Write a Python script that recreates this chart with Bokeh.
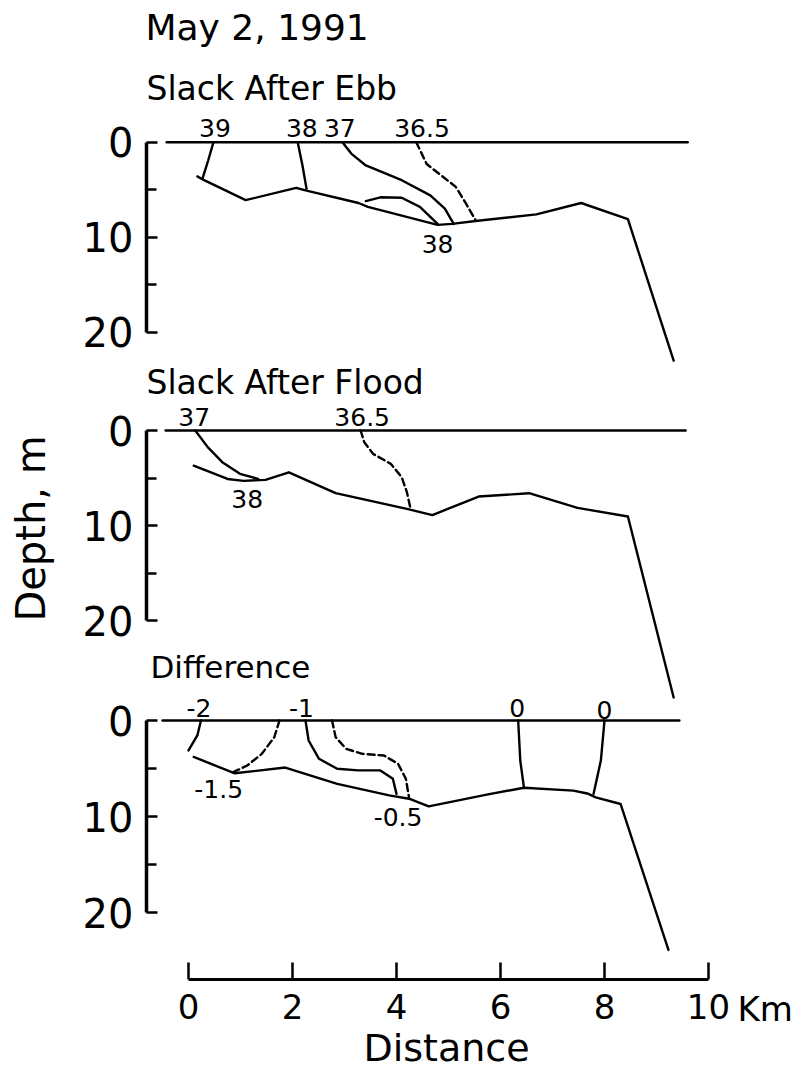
from bokeh.plotting import figure
from bokeh.models import Range1d, FixedTicker
from bokeh.layouts import column
from bokeh.core.properties import value
from bokeh.embed import file_html
from bokeh.resources import INLINE

# ------------------------------------------------------------------ data
depth_ticks = [0, 10, 20]
depth_minor_ticks = [5, 15]
distance_ticks = [0, 2, 4, 6, 8, 10]
distance_unit = "Km"
distance_title = "Distance"
depth_title = "Depth, m"

main_title = "May 2, 1991"
panel_titles = ["Slack After Ebb", "Slack After Flood", "Difference"]

# --- Slack After Ebb (salinity contours)
ebb_surface_km = [-0.42, 9.60]
ebb_surface_depth = [0.0, 0.0]
ebb_bottom_km = [0.17, 0.30, 1.10, 2.07, 2.27, 3.27, 3.45, 4.79, 5.07, 5.52, 6.69, 7.55, 8.45, 9.33]
ebb_bottom_depth = [3.6, 4.0, 6.1, 4.8, 5.1, 6.4, 6.8, 8.7, 8.6, 8.3, 7.6, 6.4, 8.1, 23.0]
ebb_39_km = [0.48, 0.38, 0.27]
ebb_39_depth = [0.0, 1.9, 3.8]
ebb_38_upper_km = [2.10, 2.19, 2.27]
ebb_38_upper_depth = [0.0, 2.4, 4.9]
ebb_37_km = [2.96, 3.13, 3.41, 4.10, 4.65, 4.93, 5.10]
ebb_37_depth = [0.0, 1.2, 2.45, 4.0, 5.6, 7.0, 8.6]
ebb_365_km = [4.38, 4.58, 4.86, 5.14, 5.34, 5.52]
ebb_365_depth = [0.0, 2.3, 3.5, 4.7, 6.5, 8.2]
ebb_38_lower_km = [3.41, 3.69, 4.10, 4.45, 4.79]
ebb_38_lower_depth = [6.2, 5.8, 5.85, 6.8, 8.6]
ebb_label_text = ["39", "38", "37", "36.5", "38"]
ebb_label_km = [0.51, 2.18, 2.91, 4.49, 4.79]
ebb_label_depth = [-1.5, -1.5, -1.5, -1.5, 10.7]

# --- Slack After Flood
flood_surface_km = [-0.44, 9.56]
flood_surface_depth = [0.0, 0.0]
flood_bottom_km = [0.10, 0.75, 1.06, 1.48, 1.93, 2.83, 4.20, 4.69, 5.58, 6.55, 7.48, 8.45, 9.33]
flood_bottom_depth = [3.7, 5.1, 5.3, 5.2, 4.4, 6.6, 8.25, 8.9, 6.95, 6.6, 8.15, 9.05, 28.1]
flood_37_km = [0.13, 0.37, 0.65, 0.99, 1.34]
flood_37_depth = [0.0, 1.75, 3.33, 4.56, 5.09]
flood_365_km = [3.31, 3.38, 3.55, 3.89, 4.10, 4.20, 4.27]
flood_365_depth = [0.0, 1.23, 2.46, 3.51, 4.91, 6.49, 8.25]
flood_label_text = ["37", "36.5", "38"]
flood_label_km = [0.11, 3.34, 1.13]
flood_label_depth = [-1.45, -1.45, 7.2]

# --- Difference
diff_surface_km = [-0.50, 9.44]
diff_surface_depth = [0.0, 0.0]
diff_bottom_km = [0.10, 0.89, 1.86, 2.86, 3.86, 4.24, 4.62, 5.76, 6.45, 7.40, 7.67, 7.83, 8.31, 9.23]
diff_bottom_depth = [3.8, 5.5, 4.9, 6.6, 7.8, 8.15, 8.95, 7.7, 7.0, 7.3, 7.6, 8.0, 8.7, 23.9]
diff_m2_km = [0.24, 0.17, 0.0]
diff_m2_depth = [0.0, 1.56, 3.12]
diff_m15_km = [1.75, 1.65, 1.41, 1.13, 0.86]
diff_m15_depth = [0.0, 1.74, 3.47, 4.69, 5.38]
diff_m1_km = [2.25, 2.31, 2.51, 2.86, 3.27, 3.69, 3.93, 4.00]
diff_m1_depth = [0.0, 2.08, 3.99, 5.03, 5.2, 5.2, 6.07, 7.64]
diff_m05_km = [2.76, 2.83, 3.03, 3.34, 3.76, 4.03, 4.18, 4.24]
diff_m05_depth = [0.0, 1.74, 2.95, 3.47, 3.65, 4.51, 6.07, 7.99]
diff_0a_km = [6.34, 6.38, 6.45]
diff_0a_depth = [0.0, 4.17, 6.94]
diff_0b_km = [8.00, 7.93, 7.79]
diff_0b_depth = [0.0, 4.17, 7.64]
diff_label_text = ["-2", "-1", "0", "0", "-1.5", "-0.5"]
diff_label_km = [0.20, 2.17, 6.32, 8.00, 0.58, 4.03]
diff_label_depth = [-1.35, -1.3, -1.3, -1.1, 7.1, 10.1]

# ------------------------------------------------------------------ layout helpers
FONT = "DejaVu Sans"
PAGE_W = 803
PAGE_H = 1072
KM0_X = 188.0        # page x of 0 km
PX_PER_KM = 52.0
FRAME_LEFT = 146
FRAME_RIGHT = 803
LW = 2.4
DASH = "7 4"


def km_at(px):
    return (px - KM0_X) / PX_PER_KM


def blank(p):
    p.background_fill_color = None
    p.border_fill_color = None
    p.outline_line_color = None
    p.grid.grid_line_color = None


def make_panel(top, height, frame_bottom, zero_y, px_per_m, border_bottom=0, show_x=False):
    y_top = (top - zero_y) / px_per_m
    y_bot = (frame_bottom - zero_y) / px_per_m
    p = figure(width=PAGE_W, height=height,
               x_range=Range1d(km_at(FRAME_LEFT), km_at(FRAME_RIGHT)),
               y_range=Range1d(y_bot, y_top),
               output_backend="svg", toolbar_location=None,
               x_axis_location="below" if show_x else None,
               min_border=0, min_border_left=FRAME_LEFT,
               min_border_right=PAGE_W - FRAME_RIGHT,
               min_border_top=0, min_border_bottom=border_bottom)
    blank(p)
    ax = p.yaxis[0]
    ax.ticker = FixedTicker(ticks=depth_ticks, minor_ticks=depth_minor_ticks)
    ax.bounds = (0, 20)
    ax.axis_line_width = 3.5
    ax.axis_line_color = "black"
    ax.major_tick_in = 11
    ax.major_tick_out = 0
    ax.minor_tick_in = 10
    ax.minor_tick_out = 0
    ax.major_tick_line_width = 2.5
    ax.minor_tick_line_width = 2.5
    ax.major_tick_line_color = "black"
    ax.minor_tick_line_color = "black"
    ax.major_label_text_font = FONT
    ax.major_label_text_font_size = "40px"
    ax.major_label_text_color = "black"
    ax.major_label_standoff = 13
    p._zero_y = zero_y
    p._ppm = px_per_m
    return p


def heading(p, text, left_px, baseline_px, size_px):
    # middle-anchored text: the em-box middle sits ~0.35 em above the baseline
    mid_px = baseline_px - 0.35 * size_px
    p.text(x=[km_at(left_px)], y=[(mid_px - p._zero_y) / p._ppm], text=[text],
           text_font=value(FONT), text_font_size=f"{size_px}px", text_align="left",
           text_baseline="middle", text_color="black")


def draw(p, km, depth, dashed=False):
    p.line(km, depth, line_color="black", line_width=LW,
           line_dash=DASH if dashed else "solid", line_join="round", line_cap="round")


def labels(p, km, depth, text):
    p.text(x=km, y=depth, text=text, text_font=value(FONT), text_font_size="25px",
           text_align="center", text_baseline="middle", text_color="black")


# ------------------------------------------------------------------ panel 1
p1 = make_panel(top=0, height=364, frame_bottom=364, zero_y=141.7, px_per_m=9.5)
heading(p1, main_title, 145, 40, 36)
heading(p1, panel_titles[0], 146, 100, 33)
draw(p1, ebb_surface_km, ebb_surface_depth)
draw(p1, ebb_bottom_km, ebb_bottom_depth)
draw(p1, ebb_39_km, ebb_39_depth)
draw(p1, ebb_38_upper_km, ebb_38_upper_depth)
draw(p1, ebb_37_km, ebb_37_depth)
draw(p1, ebb_365_km, ebb_365_depth, dashed=True)
draw(p1, ebb_38_lower_km, ebb_38_lower_depth)
labels(p1, ebb_label_km, ebb_label_depth, ebb_label_text)

# ------------------------------------------------------------------ panel 2
p2 = make_panel(top=354, height=348, frame_bottom=702, zero_y=430, px_per_m=9.5)
p2.margin = (-10, 0, 0, 0)
p2.yaxis.axis_label = depth_title
p2.yaxis.axis_label_text_font = FONT
p2.yaxis.axis_label_text_font_size = "40px"
p2.yaxis.axis_label_text_font_style = "normal"
p2.yaxis.axis_label_text_color = "black"
p2.yaxis.axis_label_standoff = 26
heading(p2, panel_titles[1], 146, 394, 33)
draw(p2, flood_surface_km, flood_surface_depth)
draw(p2, flood_bottom_km, flood_bottom_depth)
draw(p2, flood_37_km, flood_37_depth)
draw(p2, flood_365_km, flood_365_depth, dashed=True)
labels(p2, flood_label_km, flood_label_depth, flood_label_text)

# ------------------------------------------------------------------ panel 3
p3 = make_panel(top=640, height=PAGE_H - 640, frame_bottom=979, zero_y=720, px_per_m=9.6,
                border_bottom=PAGE_H - 979, show_x=True)
p3.margin = (-62, 0, 0, 0)
heading(p3, panel_titles[2], 150, 677, 31)

# distance scale bar with inward ticks
bar = p3.xaxis[0]
bar.ticker = FixedTicker(ticks=distance_ticks, minor_ticks=[])
bar.bounds = (distance_ticks[0], distance_ticks[-1])
bar.axis_line_width = 3
bar.axis_line_color = "black"
bar.major_tick_in = 17
bar.major_tick_out = 0
bar.major_tick_line_width = 2.5
bar.major_tick_line_color = "black"
bar.major_label_text_font = FONT
bar.major_label_text_font_size = "34px"
bar.major_label_text_color = "black"
bar.major_label_standoff = 14

draw(p3, diff_surface_km, diff_surface_depth)
draw(p3, diff_bottom_km, diff_bottom_depth)
draw(p3, diff_m2_km, diff_m2_depth)
draw(p3, diff_m15_km, diff_m15_depth, dashed=True)
draw(p3, diff_m1_km, diff_m1_depth)
draw(p3, diff_m05_km, diff_m05_depth, dashed=True)
draw(p3, diff_0a_km, diff_0a_depth)
draw(p3, diff_0b_km, diff_0b_depth)
labels(p3, diff_label_km, diff_label_depth, diff_label_text)

# ------------------------------------------------------------------ scale caption strip
# transparent strip laid over the foot of panel 3 (same km scale); y is page pixels
CAP_TOP = 985
p4 = figure(width=PAGE_W, height=PAGE_H - CAP_TOP,
            x_range=Range1d(km_at(FRAME_LEFT), km_at(FRAME_RIGHT)),
            y_range=Range1d(PAGE_H, CAP_TOP),
            output_backend="svg", toolbar_location=None,
            x_axis_location=None, y_axis_location=None, min_border=0,
            min_border_left=FRAME_LEFT, min_border_right=PAGE_W - FRAME_RIGHT)
blank(p4)
p4.margin = (-(PAGE_H - CAP_TOP), 0, 0, 0)
p4.text(x=[distance_ticks[-1]], y=[1008], text=[distance_unit], x_offset=29,
        text_font=value(FONT), text_font_size="34px", text_align="left",
        text_baseline="middle", text_color="black")
p4.text(x=[(distance_ticks[0] + distance_ticks[-1]) / 2], y=[1061 - 0.35 * 38],
        text=[distance_title], x_offset=-2,
        text_font=value(FONT), text_font_size="38px", text_align="center",
        text_baseline="middle", text_color="black")

layout = column(p1, p2, p3, p4, spacing=0)
open("out.html", "w").write(file_html(layout, INLINE))
